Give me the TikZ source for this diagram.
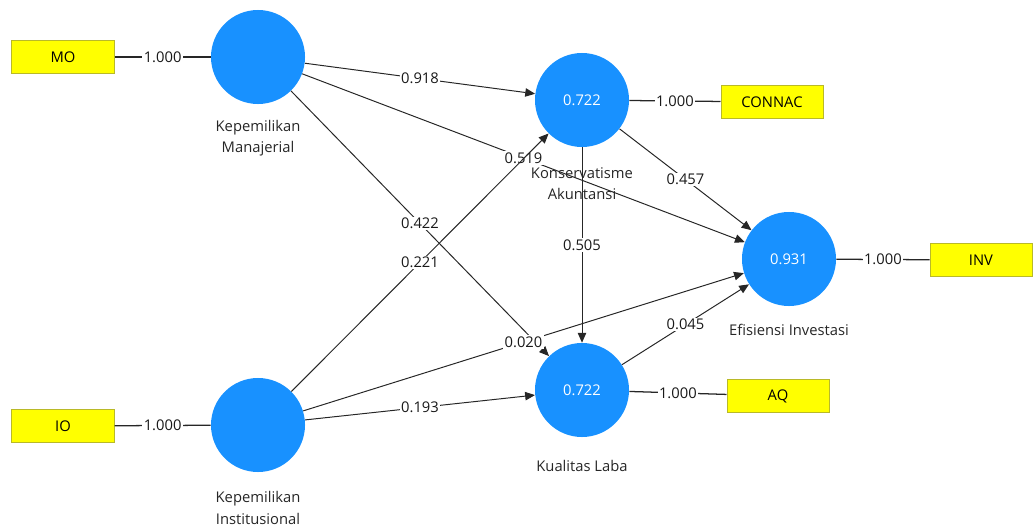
\documentclass[tikz,border=0pt]{standalone}
\usepackage{fontspec}
\setmainfont{Open Sans}
\usetikzlibrary{arrows.meta}
\definecolor{lvblue}{RGB}{24,145,255}
\definecolor{mvyellow}{RGB}{255,255,0}
\definecolor{mvborder}{RGB}{185,185,40}
\begin{document}
\begin{tikzpicture}[x=0.025cm,y=-0.025cm,
  lv/.style={circle, fill=lvblue, draw=none, minimum size=2.35cm, inner sep=0pt, text=white, font=\fontsize{10.5}{13}\selectfont},
  mv/.style={rectangle, fill=mvyellow, draw=mvborder, line width=0.7pt, minimum width=2.55cm, minimum height=0.825cm, inner sep=0pt, font=\fontsize{10.5}{13}\selectfont},
  lvname/.style={align=center, inner sep=0pt, text=black!85, font=\fontsize{10.5}{15}\selectfont},
  coef/.style={fill=white, inner sep=1pt, text=black!90, font=\fontsize{10.5}{13}\selectfont},
  arr/.style={draw, line width=0.7pt, black!85, -{Triangle[length=7pt,width=6pt]}},
  loadln/.style={draw, line width=0.9pt, black!85, -}]
\useasboundingbox (0,0) rectangle (1033,527);
\node[mv] (mo) at (63,57) {MO};
\node[mv] (io) at (63,426) {IO};
\node[mv] (connac) at (772,102) {CONNAC};
\node[mv] (aq) at (778,396) {AQ};
\node[mv] (inv) at (981,260) {INV};
\node[lv] (km) at (258,57) {};
\node[lv] (ki) at (258,425) {};
\node[lv] (ka) at (582,100) {0.722};
\node[lv] (kl) at (582,390) {0.722};
\node[lv] (ei) at (789,259) {0.931};
\node[lvname] (kmname) at (258,138) {Kepemilikan\\Manajerial};
\node[lvname] (kiname) at (258,508) {Kepemilikan\\Institusional};
\node[lvname] (kaname) at (582,184) {Konservatisme\\Akuntansi};
\node[lvname] (klname) at (582,466) {Kualitas Laba};
\node[lvname] (einame) at (789,330) {Efisiensi Investasi};
\path[loadln] (mo) -- node[coef] {1.000} (km);
\path[loadln] (io) -- node[coef] {1.000} (ki);
\path[loadln] (ka) -- node[coef] {1.000} (connac);
\path[loadln] (kl) -- node[coef] {1.000} (aq);
\path[loadln] (ei) -- node[coef] {1.000} (inv);
\path[arr] (km) -- node[coef] {0.918} (ka);
\path[arr] (km) -- node[coef] {0.519} (ei);
\path[arr] (km) -- node[coef] {0.422} (kl);
\path[arr] (ki) -- node[coef] {0.221} (ka);
\path[arr] (ki) -- node[coef] {0.020} (ei);
\path[arr] (ki) -- node[coef] {0.193} (kl);
\path[arr] (ka) -- node[coef] {0.505} (kl);
\path[arr] (ka) -- node[coef] {0.457} (ei);
\path[arr] (kl) -- node[coef] {0.045} (ei);
\end{tikzpicture}
\end{document}
